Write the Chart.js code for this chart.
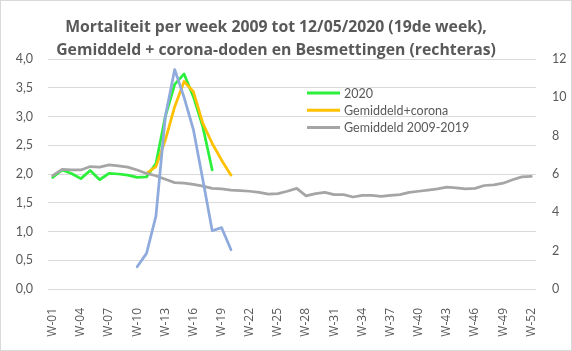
<!DOCTYPE html>
<html>
<head>
<meta charset="utf-8">
<script src="https://cdn.jsdelivr.net/npm/chart.js@4.4.1/dist/chart.umd.min.js"></script>
<style>
  html, body { margin: 0; padding: 0; background: #fff; }
  #wrap { width: 572px; height: 351px; }
</style>
</head>
<body>
<div id="wrap"><canvas id="chart"></canvas></div>
<script>
  // weeks W-01 .. W-52
  const weeks = [];
  for (let i = 1; i <= 52; i++) weeks.push('W-' + String(i).padStart(2, '0'));

  // 2020 (left axis)
  const mort2020 = [1.94, 2.07, 2.01, 1.92, 2.06, 1.90, 2.01, 2.00, 1.98, 1.94,
    1.95, 2.18, 3.00, 3.56, 3.74, 3.34, 2.82, 2.07];

  // Gemiddeld + corona (left axis), starts at W-11
  const avgCorona = [null, null, null, null, null, null, null, null, null, null,
    2.01, 2.13, 2.59, 3.17, 3.61, 3.43, 2.88, 2.53, 2.24, 1.98];

  // Gemiddeld 2009-2019 (left axis)
  const avg0919 = [1.97, 2.08, 2.07, 2.07, 2.13, 2.12, 2.16, 2.14, 2.12, 2.07,
    2.01, 1.97, 1.91, 1.85, 1.84, 1.82, 1.79, 1.75, 1.74, 1.72,
    1.71, 1.70, 1.68, 1.65, 1.66, 1.70, 1.75, 1.62, 1.66, 1.68,
    1.64, 1.64, 1.60, 1.63, 1.63, 1.61, 1.63, 1.64, 1.68, 1.70,
    1.72, 1.74, 1.77, 1.76, 1.74, 1.75, 1.80, 1.81, 1.84, 1.90,
    1.95, 1.96];

  // Besmettingen (right axis), starts at W-10
  const infections = [null, null, null, null, null, null, null, null, null,
    1.16, 1.86, 3.8, 9.0, 11.45, 10.0, 8.3, 5.7, 3.04, 3.2, 2.05];

  const titleLines = [
    'Mortaliteit per week 2009 tot 12/05/2020 (19de week),',
    'Gemiddeld + corona-doden en Besmettingen (rechteras)'
  ];

  const green = '#2cf03c';
  const orange = '#ffc000';
  const grey = '#a5a5a5';
  const blue = '#8faadc';
  const textCol = '#595959';
  const fontFam = 'Lato, "Liberation Sans", sans-serif';
  const tickFam = '"Open Sans", "Liberation Sans", sans-serif';

  // title + legend + frame drawn by hand, Excel style
  const decor = {
    id: 'decor',
    afterDraw(chart) {
      const c = chart.ctx;
      c.save();
      c.strokeStyle = '#d9d9d9';
      c.lineWidth = 1;
      c.strokeRect(0.5, 0.5, 571, 350);

      c.fillStyle = textCol;
      c.textAlign = 'center';
      c.textBaseline = 'middle';
      // pick a size so the first line is about as wide as in the original
      let size = 14;
      c.font = 'bold ' + size + 'px "Open Sans", sans-serif';
      size = size * 422 / c.measureText(titleLines[0]).width;
      c.font = 'bold ' + size.toFixed(2) + 'px "Open Sans", sans-serif';
      c.fillText(titleLines[0], 276, 27);
      c.fillText(titleLines[1], 276, 50);

      const items = [['2020', green], ['Gemiddeld+corona', orange], ['Gemiddeld 2009-2019', grey]];
      c.font = '12.5px ' + fontFam;
      c.textAlign = 'left';
      items.forEach((it, i) => {
        const y = 93 + i * 17.3;
        c.strokeStyle = it[1];
        c.lineWidth = 3;
        c.beginPath();
        c.moveTo(307, y);
        c.lineTo(340, y);
        c.stroke();
        c.fillText(it[0], 344, y + 0.5);
      });
      c.restore();
    }
  };

  new Chart(document.getElementById('chart'), {
    type: 'line',
    data: {
      labels: weeks,
      datasets: [
        { label: 'Besmettingen', data: infections, borderColor: blue, yAxisID: 'y2', order: 0 },
        { label: 'Gemiddeld 2009-2019', data: avg0919, borderColor: grey, yAxisID: 'y', order: 1 },
        { label: 'Gemiddeld+corona', data: avgCorona, borderColor: orange, yAxisID: 'y', order: 2 },
        { label: '2020', data: mort2020, borderColor: green, yAxisID: 'y', order: 3 }
      ]
    },
    options: {
      responsive: true,
      maintainAspectRatio: false,
      animation: false,
      layout: { padding: { top: 59, left: 0, right: 0, bottom: 0 } },
      elements: {
        line: { borderWidth: 2.75, tension: 0, borderCapStyle: 'round', borderJoinStyle: 'round' },
        point: { radius: 0 }
      },
      plugins: {
        legend: { display: false },
        title: { display: false },
        tooltip: { enabled: false }
      },
      scales: {
        x: {
          offset: true,
          grid: { display: false },
          border: { display: false },
          ticks: {
            autoSkip: false,
            maxRotation: 90,
            minRotation: 90,
            padding: 11,
            color: textCol,
            font: { family: tickFam, size: 12 },
            callback: function (v, i) { return i % 3 === 0 ? this.getLabelForValue(v) : null; }
          },
          afterFit(s) { s.height = 62; }
        },
        y: {
          position: 'left',
          min: 0, max: 4,
          grid: { color: '#d9d9d9', lineWidth: 1, drawTicks: false },
          border: { display: false },
          ticks: {
            stepSize: 0.5,
            padding: 15,
            color: textCol,
            font: { family: fontFam, size: 12.5 },
            callback: v => v.toFixed(1).replace('.', ',')
          },
          afterFit(s) { s.width = 48; }
        },
        y2: {
          position: 'right',
          min: 0, max: 12,
          grid: { display: false, drawTicks: false },
          border: { display: false },
          ticks: {
            stepSize: 2,
            padding: 16,
            color: textCol,
            font: { family: fontFam, size: 12.5 }
          },
          afterFit(s) { s.width = 36; }
        }
      }
    },
    plugins: [decor]
  });
</script>
</body>
</html>
